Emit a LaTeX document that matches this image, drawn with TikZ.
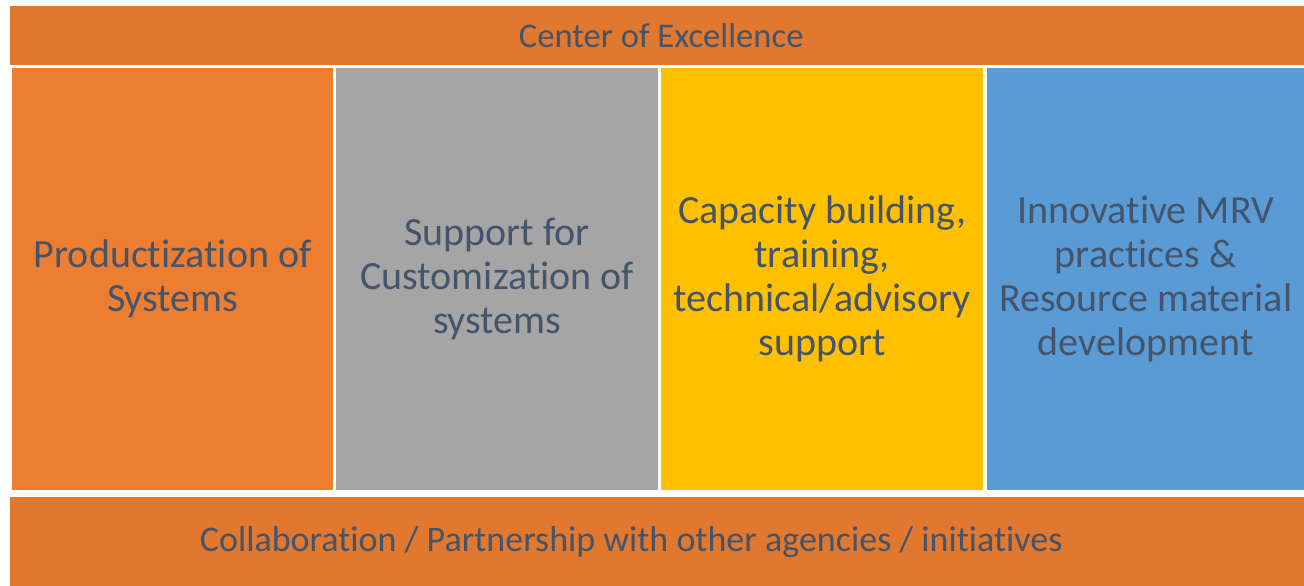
\documentclass[tikz,border=0pt]{standalone}
\usepackage{fontspec}
\setmainfont[Ligatures=NoCommon]{Carlito}
\usetikzlibrary{positioning}
\definecolor{coeband}{HTML}{E0782F}
\definecolor{coeorange}{HTML}{ED7D31}
\definecolor{coegray}{HTML}{A5A5A5}
\definecolor{coeyellow}{HTML}{FFC000}
\definecolor{coeblue}{HTML}{5B9BD5}
\definecolor{coetext}{HTML}{44546A}
\tikzset{
    % Bar styles
    band box/.style={
        rectangle,
        fill=coeband,
        draw=none,
        inner sep=0pt,
        anchor=north west,
        minimum width=1294pt
    },
    band text/.style={
        inner sep=0pt,
        text=coetext
    },
    % Column styles
    pillar box/.style={
        rectangle,
        draw=none,
        inner sep=0pt,
        anchor=north west,
        minimum height=422pt,
        align=center,
        text=coetext,
        font=\fontsize{40}{44}\selectfont
    }
}

\begin{document}
\begin{tikzpicture}[x=1pt, y=-1pt]
        \fill[white] (0,0) rectangle (1304,586);
        \useasboundingbox (0,0) rectangle (1304,586);

        % Top band
        \node[band box, minimum height=59pt] (coe) at (10,6) {};
        \node[band text, font=\fontsize{34.6}{40}\selectfont] (coetitle) at ([xshift=4pt]coe.center) {Center of Excellence};

        % Columns
        \foreach \i/\x/\w/\col/\txt in {
            1/12/321/coeorange/{Productization of\\Systems},
            2/336/322/coegray/{Support for\\Customization of\\systems},
            3/661/322/coeyellow/{Capacity building,\\training,\\technical/advisory\\support},
            4/987/317/coeblue/{Innovative MRV\\practices \&\\Resource material\\development}} {
            \node[pillar box, fill=\col, minimum width=\w pt] (col\i) at (\x,68) {\txt};
        }

        % Bottom band
        \node[band box, minimum height=89pt] (collab) at (10,497) {};
        \node[band text, font=\fontsize{36}{40}\selectfont] (collabtitle) at ([xshift=-26pt]collab.center) {Collaboration / Partnership with other agencies / initiatives};
    \end{tikzpicture}
\end{document}
